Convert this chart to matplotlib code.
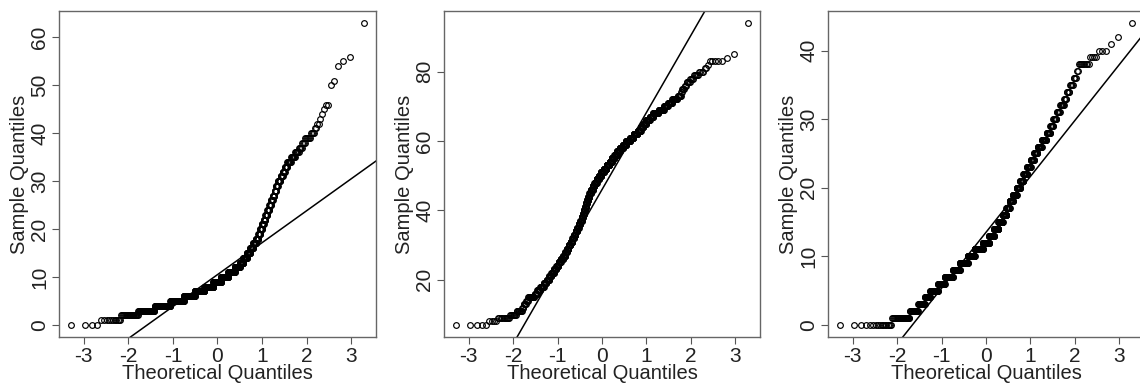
import numpy as np
import matplotlib
matplotlib.use("Agg")
import matplotlib.pyplot as plt
from statistics import NormalDist

p1_start = 0
p1_counts = [4, 11, 22, 42, 66, 80, 80, 79, 78, 70,
             63, 55, 41, 27, 27, 23, 20, 18, 14, 11,
             10, 9, 8, 10, 9, 8, 7, 7, 6, 7,
             9, 7, 6, 7, 9, 9, 7, 5, 4, 6,
             4, 2, 2, 1, 1, 1, 2, 0, 0, 0,
             1, 1, 0, 0, 1, 1, 1, 0, 0, 0,
             0, 0, 0, 1]

p2_start = 7
p2_counts = [5, 4, 10, 8, 9, 3, 5, 4, 16, 8,
             10, 13, 11, 11, 10, 13, 12, 12, 12, 14,
             14, 10, 12, 13, 13, 12, 12, 12, 12, 12,
             12, 10, 9, 8, 9, 8, 10, 10, 13, 16,
             15, 20, 20, 20, 24, 24, 27, 20, 23, 23,
             22, 26, 24, 31, 25, 27, 20, 16, 15, 19,
             17, 23, 20, 13, 12, 12, 7, 2, 4, 3,
             5, 4, 5, 4, 2, 1, 5, 1, 1, 0,
             0, 0, 0, 0, 0, 0, 0, 1]

p3_start = 0
p3_counts = [17, 26, 20, 21, 20, 36, 36, 52, 50, 63,
             58, 73, 55, 44, 39, 36, 31, 25, 25, 28,
             23, 22, 22, 21, 17, 17, 18, 18, 13, 9,
             9, 8, 8, 5, 5, 5, 4, 2, 9, 4,
             3, 1, 1, 0, 1]

x_ticks = [-3, -2, -1, 0, 1, 2, 3]
p1_yticks = [0, 10, 20, 30, 40, 50, 60]
p2_yticks = [20, 40, 60, 80]
p3_yticks = [0, 10, 20, 30, 40]

plt.rcParams['font.family'] = ['Liberation Sans', 'DejaVu Sans']

W, H = 1140, 383
fig = plt.figure(figsize=(W / 100, H / 100), dpi=100)

# axes boxes in pixels: left, right, top, bottom
boxes = [(59, 376, 11, 337), (444, 760, 11, 337), (828, 1144, 11, 337)]
panels = [(p1_start, p1_counts, p1_yticks),
          (p2_start, p2_counts, p2_yticks),
          (p3_start, p3_counts, p3_yticks)]

nd = NormalDist()
for (l, r, t, b), (start, counts, yt) in zip(boxes, panels):
    ax = fig.add_axes([l / W, (H - b) / H, (r - l) / W, (b - t) / H])
    vals = np.repeat(np.arange(start, start + len(counts)), counts)
    vals = np.sort(vals)
    n = len(vals)
    # R's ppoints / qqnorm
    pp = (np.arange(1, n + 1) - 0.5) / n
    theo = np.array([nd.inv_cdf(p) for p in pp])
    ax.plot(theo, vals, 'o', mfc='none', mec='black', ms=4.1, mew=0.85)

    # qqline through the quartiles
    yq = np.quantile(vals, [0.25, 0.75])
    xq = np.array([nd.inv_cdf(0.25), nd.inv_cdf(0.75)])
    slope = (yq[1] - yq[0]) / (xq[1] - xq[0])
    ax.axline((xq[0], yq[0]), slope=slope, color='black', lw=1.1)

    pad_x = 0.04 * (theo.max() - theo.min())
    pad_y = 0.04 * (vals.max() - vals.min())
    ax.set_xlim(theo.min() - pad_x, theo.max() + pad_x)
    ax.set_ylim(vals.min() - pad_y, vals.max() + pad_y)

    ax.set_xticks(x_ticks)
    ax.set_xticklabels([str(v) for v in x_ticks])
    ax.set_yticks(yt)
    ax.set_yticklabels([str(v) for v in yt], rotation=90, va='center')
    ax.tick_params(labelsize=15, length=5, width=0.8, color='#555555',
                   labelcolor='#222222', pad=2)
    for s in ax.spines.values():
        s.set_color('#666666')
        s.set_linewidth(1.0)
    ax.set_xlabel("Theoretical Quantiles", fontsize=14.5, color='#222222', labelpad=-1)
    ax.set_ylabel("Sample Quantiles", fontsize=14.5, color='#222222', labelpad=1)

fig.savefig("out.png", dpi=100)
